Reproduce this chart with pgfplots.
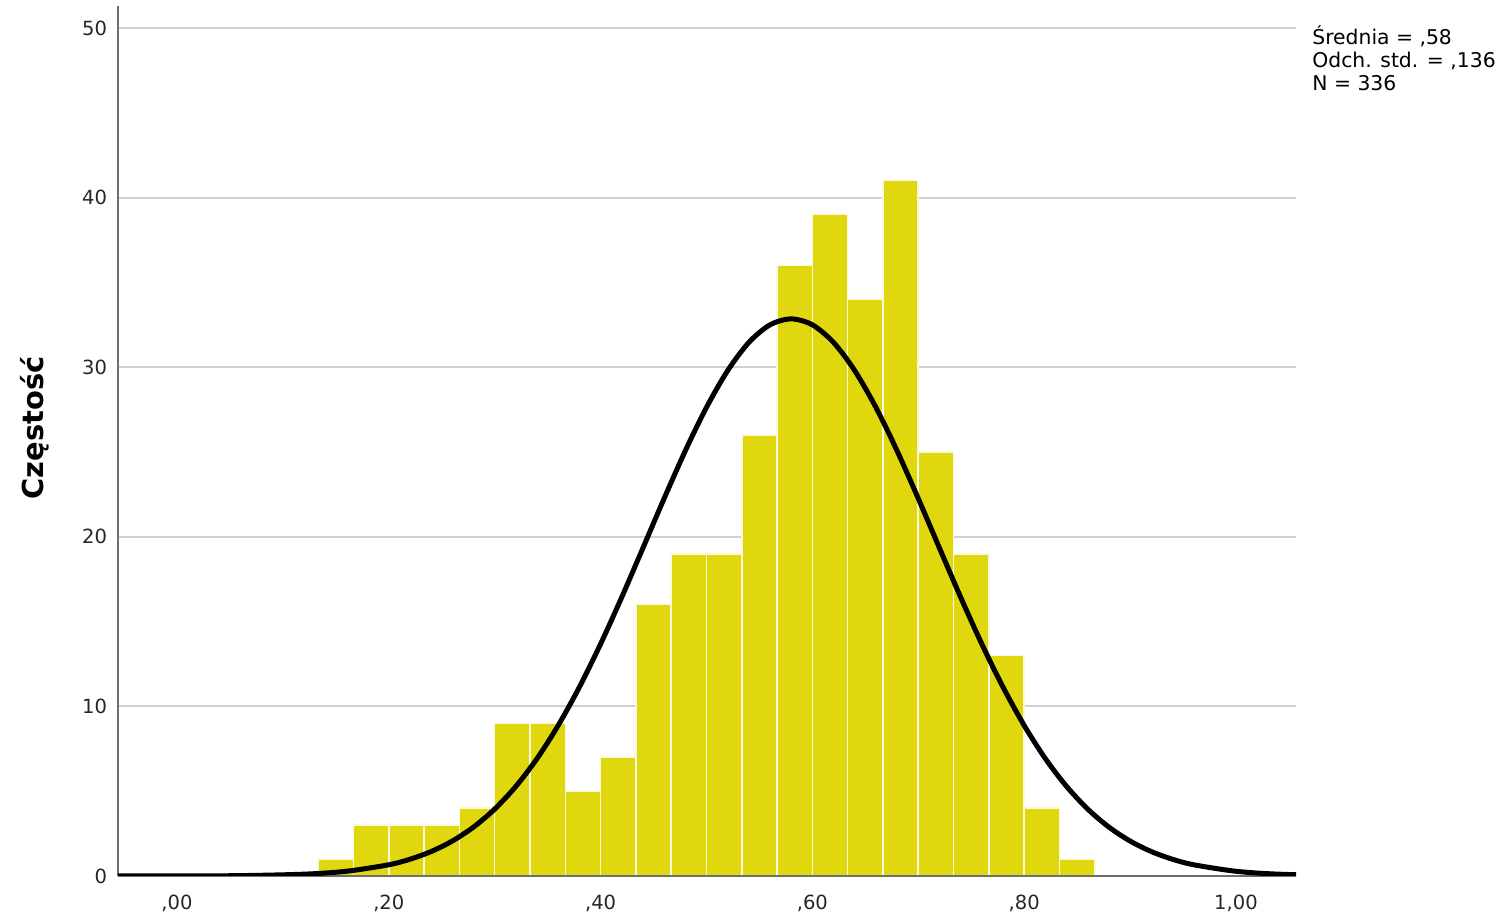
\documentclass[border=0pt]{standalone}
\usepackage{pgfplots}
\pgfplotsset{compat=1.18}
\usepackage{fontspec}
\setmainfont{DejaVu Sans}
\definecolor{baryellow}{RGB}{225,215,15}
\definecolor{gridgray}{RGB}{208,208,208}
\definecolor{axisgray}{RGB}{110,110,110}
\begin{document}
\begin{tikzpicture}
\begin{axis}[
  scale only axis,
  width=589bp, height=435bp,
  xmin=-0.0557, xmax=1.0567,
  ymin=0, ymax=51.3,
  axis x line=bottom, axis y line=left,
  axis line style={-, draw=axisgray, line width=1bp},
  major tick length=0pt,
  xtick={0,0.2,0.4,0.6,0.8,1.0},
  xticklabels={{,00},{,20},{,40},{,60},{,80},{1,00}},
  ytick={0,10,20,30,40,50},
  yticklabels={0,10,20,30,40,50},
  ymajorgrids,
  grid style={draw=gridgray, line width=1bp},
  tick label style={font=\fontsize{9.8}{11}\selectfont, text=black!85},
  xticklabel style={yshift=-6bp},
  yticklabel style={xshift=-2bp},
  /pgf/number format/assume math mode=true,
  clip=true,
]
\coordinate (sw) at (rel axis cs:0,0);
\coordinate (ne) at (rel axis cs:1,1);
\coordinate (yl) at (rel axis cs:0,0.515);
\addplot[ybar interval, fill=baryellow, draw=white!85!baryellow, line width=0.8bp] coordinates {
(0.1333,1) (0.1667,3) (0.2000,3) (0.2333,3) (0.2667,4) (0.3000,9)
(0.3333,9) (0.3667,5) (0.4000,7) (0.4333,16) (0.4667,19) (0.5000,19)
(0.5333,26) (0.5667,36) (0.6000,39) (0.6333,34) (0.6667,41) (0.7000,25)
(0.7333,19) (0.7667,13) (0.8000,4) (0.8333,1) (0.8667,0)
};
\draw[axisgray, line width=1bp] (rel axis cs:0,0) -- (rel axis cs:1,0);
\addplot[black, line width=2.5bp, smooth] coordinates {
(-0.06,0.0005) (0.00,0.0037) (0.06,0.022) (0.12,0.108) (0.16,0.279)
(0.20,0.663) (0.22,0.989) (0.24,1.443) (0.26,2.062) (0.28,2.884)
(0.30,3.946) (0.32,5.284) (0.34,6.923) (0.36,8.878) (0.38,11.14)
(0.40,13.68) (0.42,16.44) (0.44,19.34) (0.46,22.26) (0.48,25.07)
(0.50,27.63) (0.52,29.80) (0.54,31.46) (0.56,32.50) (0.58,32.85)
(0.60,32.50) (0.62,31.46) (0.64,29.80) (0.66,27.63) (0.68,25.07)
(0.70,22.26) (0.72,19.34) (0.74,16.44) (0.76,13.68) (0.78,11.14)
(0.80,8.878) (0.82,6.923) (0.84,5.284) (0.86,3.946) (0.88,2.884)
(0.90,2.062) (0.92,1.443) (0.94,0.989) (0.96,0.663) (1.00,0.279)
(1.04,0.108) (1.10,0.022)
};
\end{axis}
\node[rotate=90, font=\fontsize{14.5}{17}\selectfont\bfseries] at ([xshift=-41.5bp]yl) {Częstość};
\node[anchor=north west, align=left, inner sep=0pt, font=\fontsize{10.2}{11.5}\selectfont]
  at ([xshift=8bp,yshift=-9.5bp]ne) {Średnia = ,58\\Odch. std. = ,136\\N = 336};
\pgfresetboundingbox
\path ([shift={(-59bp,-18.5bp)}]sw) rectangle ([shift={(107.5bp,3bp)}]ne);
\end{tikzpicture}
\end{document}
